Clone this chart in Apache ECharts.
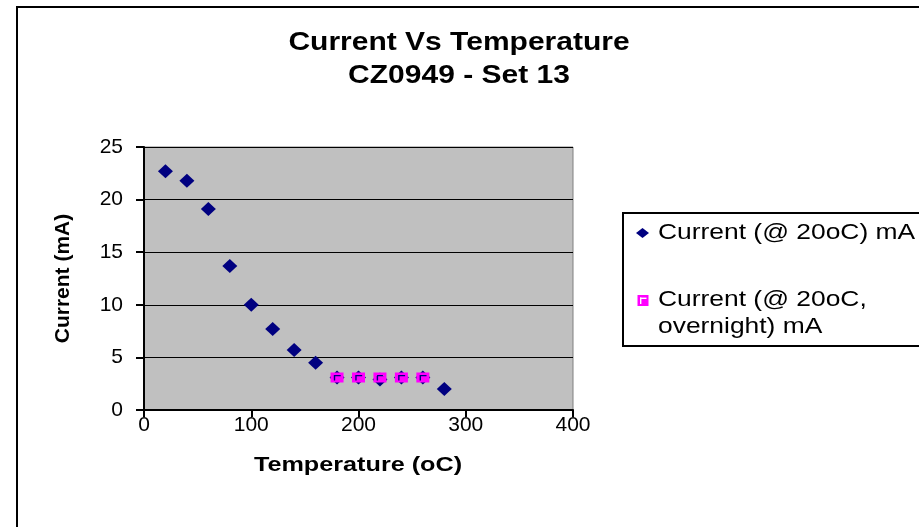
<!DOCTYPE html>
<html>
<head>
<meta charset="utf-8">
<script src="https://cdn.jsdelivr.net/npm/echarts@6/dist/echarts.min.js"></script>
<style>html,body{margin:0;padding:0;background:#fff}#c{width:919px;height:527px}</style>
</head>
<body>
<div id="c"></div>
<script>
// ---- data ----
const temps1 = [20, 40, 60, 80, 100, 120, 140, 160, 180, 200, 220, 240, 260, 280];
const current1 = [22.7, 21.8, 19.1, 13.7, 10.0, 7.7, 5.7, 4.5, 3.1, 3.1, 2.9, 3.1, 3.1, 2.0];
const temps2 = [180, 200, 220, 240, 260];
const current2 = [3.1, 3.1, 3.1, 3.1, 3.1];
const seriesNames = ['Current (@ 20oC) mA', 'Current (@ 20oC, overnight) mA'];
const titleLines = ['Current Vs Temperature', 'CZ0949 - Set 13'];
const xTicks = [0, 100, 200, 300, 400];
const yTicks = [0, 5, 10, 15, 20, 25];

const FONT = '"Liberation Sans", Arial, sans-serif';
const NAVY = '#000080', MAGENTA = '#FF00FF';
const sqPath = 'path://M0 0H12V10H0Z M3 2.6V8.2H4.3V3.9H9.4V2.6Z';
const SX = 1.2; // horizontal stretch of the reference text

function txt(text, x, y, size, bold, align) {
  return {
    type: 'text', x: x, y: y, scaleX: SX, z: 10,
    style: {text: text, fontFamily: FONT, fontSize: size, fontWeight: bold ? 'bold' : 'normal',
            fill: '#000', align: align || 'center', verticalAlign: 'middle'}
  };
}

const chart = echarts.init(document.getElementById('c'), null, {renderer: 'canvas'});
chart.setOption({
  animation: false,
  backgroundColor: '#fff',
  grid: {left: 144, right: 346, top: 147, bottom: 117, show: true,
         backgroundColor: '#C0C0C0', borderColor: '#808080', borderWidth: 1},
  xAxis: {
    type: 'value', min: xTicks[0], max: xTicks[xTicks.length - 1], interval: 100,
    axisLine: {lineStyle: {color: '#000', width: 2}},
    axisTick: {show: true, inside: false, length: 7, lineStyle: {color: '#000', width: 2}},
    axisLabel: {fontFamily: FONT, fontSize: 21, color: '#000', margin: 5},
    splitLine: {show: false}
  },
  yAxis: {
    type: 'value', min: yTicks[0], max: yTicks[yTicks.length - 1], interval: 5,
    name: 'Current (mA)', nameLocation: 'middle', nameGap: 70, nameRotate: 90,
    nameTextStyle: {fontFamily: FONT, fontWeight: 'bold', fontSize: 21, color: '#000'},
    axisLine: {show: true, lineStyle: {color: '#000', width: 2}},
    axisTick: {show: true, inside: false, length: 8, lineStyle: {color: '#000', width: 2}},
    axisLabel: {fontFamily: FONT, fontSize: 21, color: '#000', margin: 21},
    splitLine: {show: true, lineStyle: {color: '#000', width: 1}}
  },
  graphic: [
    {type: 'rect', shape: {x: 17, y: 7, width: 1000, height: 700}, style: {fill: 'none', stroke: '#000', lineWidth: 2}, z: -1},
    txt(titleLines[0], 459, 43, 25, true),
    txt(titleLines[1], 459, 76, 25, true),
    txt('Temperature (oC)', 358, 465, 21, true),
    // legend
    {type: 'rect', shape: {x: 623, y: 213, width: 400, height: 133}, style: {fill: '#fff', stroke: '#000', lineWidth: 2}, z: 5},
    {type: 'polygon', shape: {points: [[636, 233], [642.5, 228], [649, 233], [642.5, 238]]}, style: {fill: NAVY}, z: 10},
    {type: 'rect', shape: {x: 637.5, y: 295, width: 11, height: 11}, style: {fill: MAGENTA}, z: 10},
    {type: 'rect', shape: {x: 640, y: 297.6, width: 6.5, height: 1.4}, style: {fill: '#fff'}, z: 11},
    {type: 'rect', shape: {x: 640, y: 297.6, width: 1.4, height: 6.4}, style: {fill: '#fff'}, z: 11},
    txt(seriesNames[0], 658, 233, 22, false, 'left'),
    txt('Current (@ 20oC,', 658, 300, 22, false, 'left'),
    txt('overnight) mA', 658, 327, 22, false, 'left')
  ],
  series: [
    {
      name: seriesNames[0], type: 'scatter', symbol: 'diamond', symbolSize: [15, 14],
      itemStyle: {color: NAVY, opacity: 1},
      data: temps1.map((t, i) => [t, current1[i]]), z: 2
    },
    {
      name: seriesNames[1], type: 'scatter', symbol: sqPath, symbolSize: [13, 10],
      itemStyle: {color: MAGENTA, opacity: 1},
      data: temps2.map((t, i) => [t, current2[i]]), z: 3
    }
  ]
});
</script>
</body>
</html>
